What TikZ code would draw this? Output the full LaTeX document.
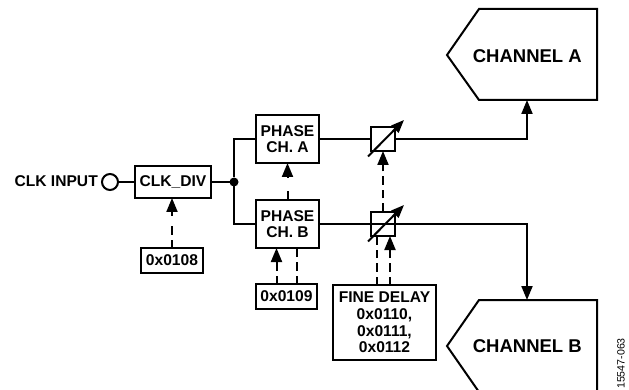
\documentclass[tikz,border=0pt]{standalone}
\usepackage{fontspec}
\setmainfont{Liberation Sans}
\usetikzlibrary{arrows.meta,calc}
\tikzset{
  lbl/.style={font=\fontsize{15.6}{16.6}\selectfont\bfseries,align=center,inner sep=0pt},
  blockbox/.style={draw,line width=2pt,inner sep=0pt,outer sep=0pt,align=center,font=\fontsize{15.6}{16.6}\selectfont\bfseries},
  delaybox/.style={draw,line width=2pt,inner sep=0pt,outer sep=0pt,minimum width=24pt,minimum height=24pt},
  chan/.style={draw,line width=2pt,line join=miter},
  conn/.style={line width=2pt},
  head/.style={-{Triangle[length=14pt,width=11pt]}},
  dashline/.style={line width=2pt,dash pattern=on 8.5pt off 5pt}
}
\begin{document}
\begin{tikzpicture}[x=1pt,y=-1pt]
\useasboundingbox (0,0) rectangle (629,390);
\clip (0,0) rectangle (629,390);
% blocks
\node[lbl,anchor=east] (clklabel) at (98,181.5) {CLK INPUT};
\node[draw,circle,line width=2pt,minimum size=16pt,inner sep=0pt,outer sep=0pt] (clkin) at (110,182) {};
\node[blockbox,minimum width=76pt,minimum height=32pt] (clkdiv) at (173,182) {CLK\_DIV};
\node[circle,fill,minimum size=9pt,inner sep=0pt,outer sep=0pt] (junction) at (234,182) {};
\node[blockbox,minimum width=63pt,minimum height=48pt] (phasea) at (287.5,139) {PHASE\\CH. A};
\node[blockbox,minimum width=63pt,minimum height=48pt] (phaseb) at (287.5,224) {PHASE\\CH. B};
\node[blockbox,minimum width=62pt,minimum height=25pt] (regdiv) at (172,260.5) {0x0108};
\node[blockbox,minimum width=61pt,minimum height=25pt] (regphase) at (286.5,296.5) {0x0109};
\node[blockbox,minimum width=103pt,minimum height=75pt] (regfine) at (384.5,322.5) {FINE DELAY\\0x0110,\\0x0111,\\0x0112};
\node[delaybox] (dla) at (383,139) {};
\node[delaybox] (dlb) at (383,224) {};
% channels
\draw[chan] (447,55) -- (479,9) -- (597,9) -- (597,100) -- (479,100) -- cycle;
\node[lbl,font=\fontsize{18.5}{20}\selectfont\bfseries] (chana) at (527.3,56) {CHANNEL A};
\coordinate (chanain) at (527,100);
\draw[chan] (447,346) -- (479,300) -- (597,300) -- (597,392) -- (479,392) -- cycle;
\node[lbl,font=\fontsize{18.5}{20}\selectfont\bfseries] (chanb) at (527.3,346) {CHANNEL B};
\coordinate (chanbin) at (527,300);
% solid connectors
\draw[conn] (clkin) -- (clkin -| clkdiv.west);
\draw[conn] (clkdiv.east |- junction) -- (junction);
\draw[conn] (phasea.west) -- (junction |- phasea.west) -- (junction) -- (junction |- phaseb.west) -- (phaseb.west);
\draw[conn] (phasea.east) -- (dla.west);
\draw[conn,head] (dla.east) -- (chanain |- dla.east) -- (chanain);
\draw[conn] (phaseb.east |- dlb.center) -- (dlb.center);
\draw[conn,head] (dlb.center) -- (chanbin |- dlb.center) -- (chanbin);
% delay arrows
\foreach \d in {dla,dlb}{
  \draw[line width=2pt,-{Triangle[length=13pt,width=10pt]}] ($(\d.center)+(-15,17.5)$) -- ($(\d.center)+(21,-19)$);
}
% dashed control lines
\draw[dashline] (regdiv.north) -- ++(0,-25);
\draw[conn,head] ($(clkdiv.south)+(-1,18)$) -- (clkdiv.south -| regdiv.north);
\draw[dashline] (phaseb.north) -- ++(0,-12);
\draw[conn,head] ($(phasea.south)+(0,15)$) -- (phasea.south);
\draw[dashline] ($(regphase.north)+(-10,0)$) -- ($(phaseb.south)+(-11,14)$);
\draw[conn,head] ($(phaseb.south)+(-11,18)$) -- ($(phaseb.south)+(-11,0)$);
\draw[dashline] ($(regphase.north)+(10.5,0)$) -- ($(phaseb.south)+(9.5,0)$);
\draw[dashline] (dlb.north) -- ($(dla.south)+(0,18)$);
\draw[conn,head] ($(dla.south)+(0,18)$) -- (dla.south);
\draw[dashline] ($(regfine.north)+(-7.5,0)$) -- ($(dlb.south)+(-6,0)$);
\draw[dashline] ($(regfine.north)+(5.5,0)$) -- ($(dlb.south)+(7,18)$);
\draw[conn,head] ($(dlb.south)+(7,18)$) -- ($(dlb.south)+(7,0)$);
% figure id
\node[rotate=90,font=\fontsize{10.6}{12}\selectfont,inner sep=0pt,anchor=center] (figid) at (621,363.5) {15547-063};
\end{tikzpicture}
\end{document}
